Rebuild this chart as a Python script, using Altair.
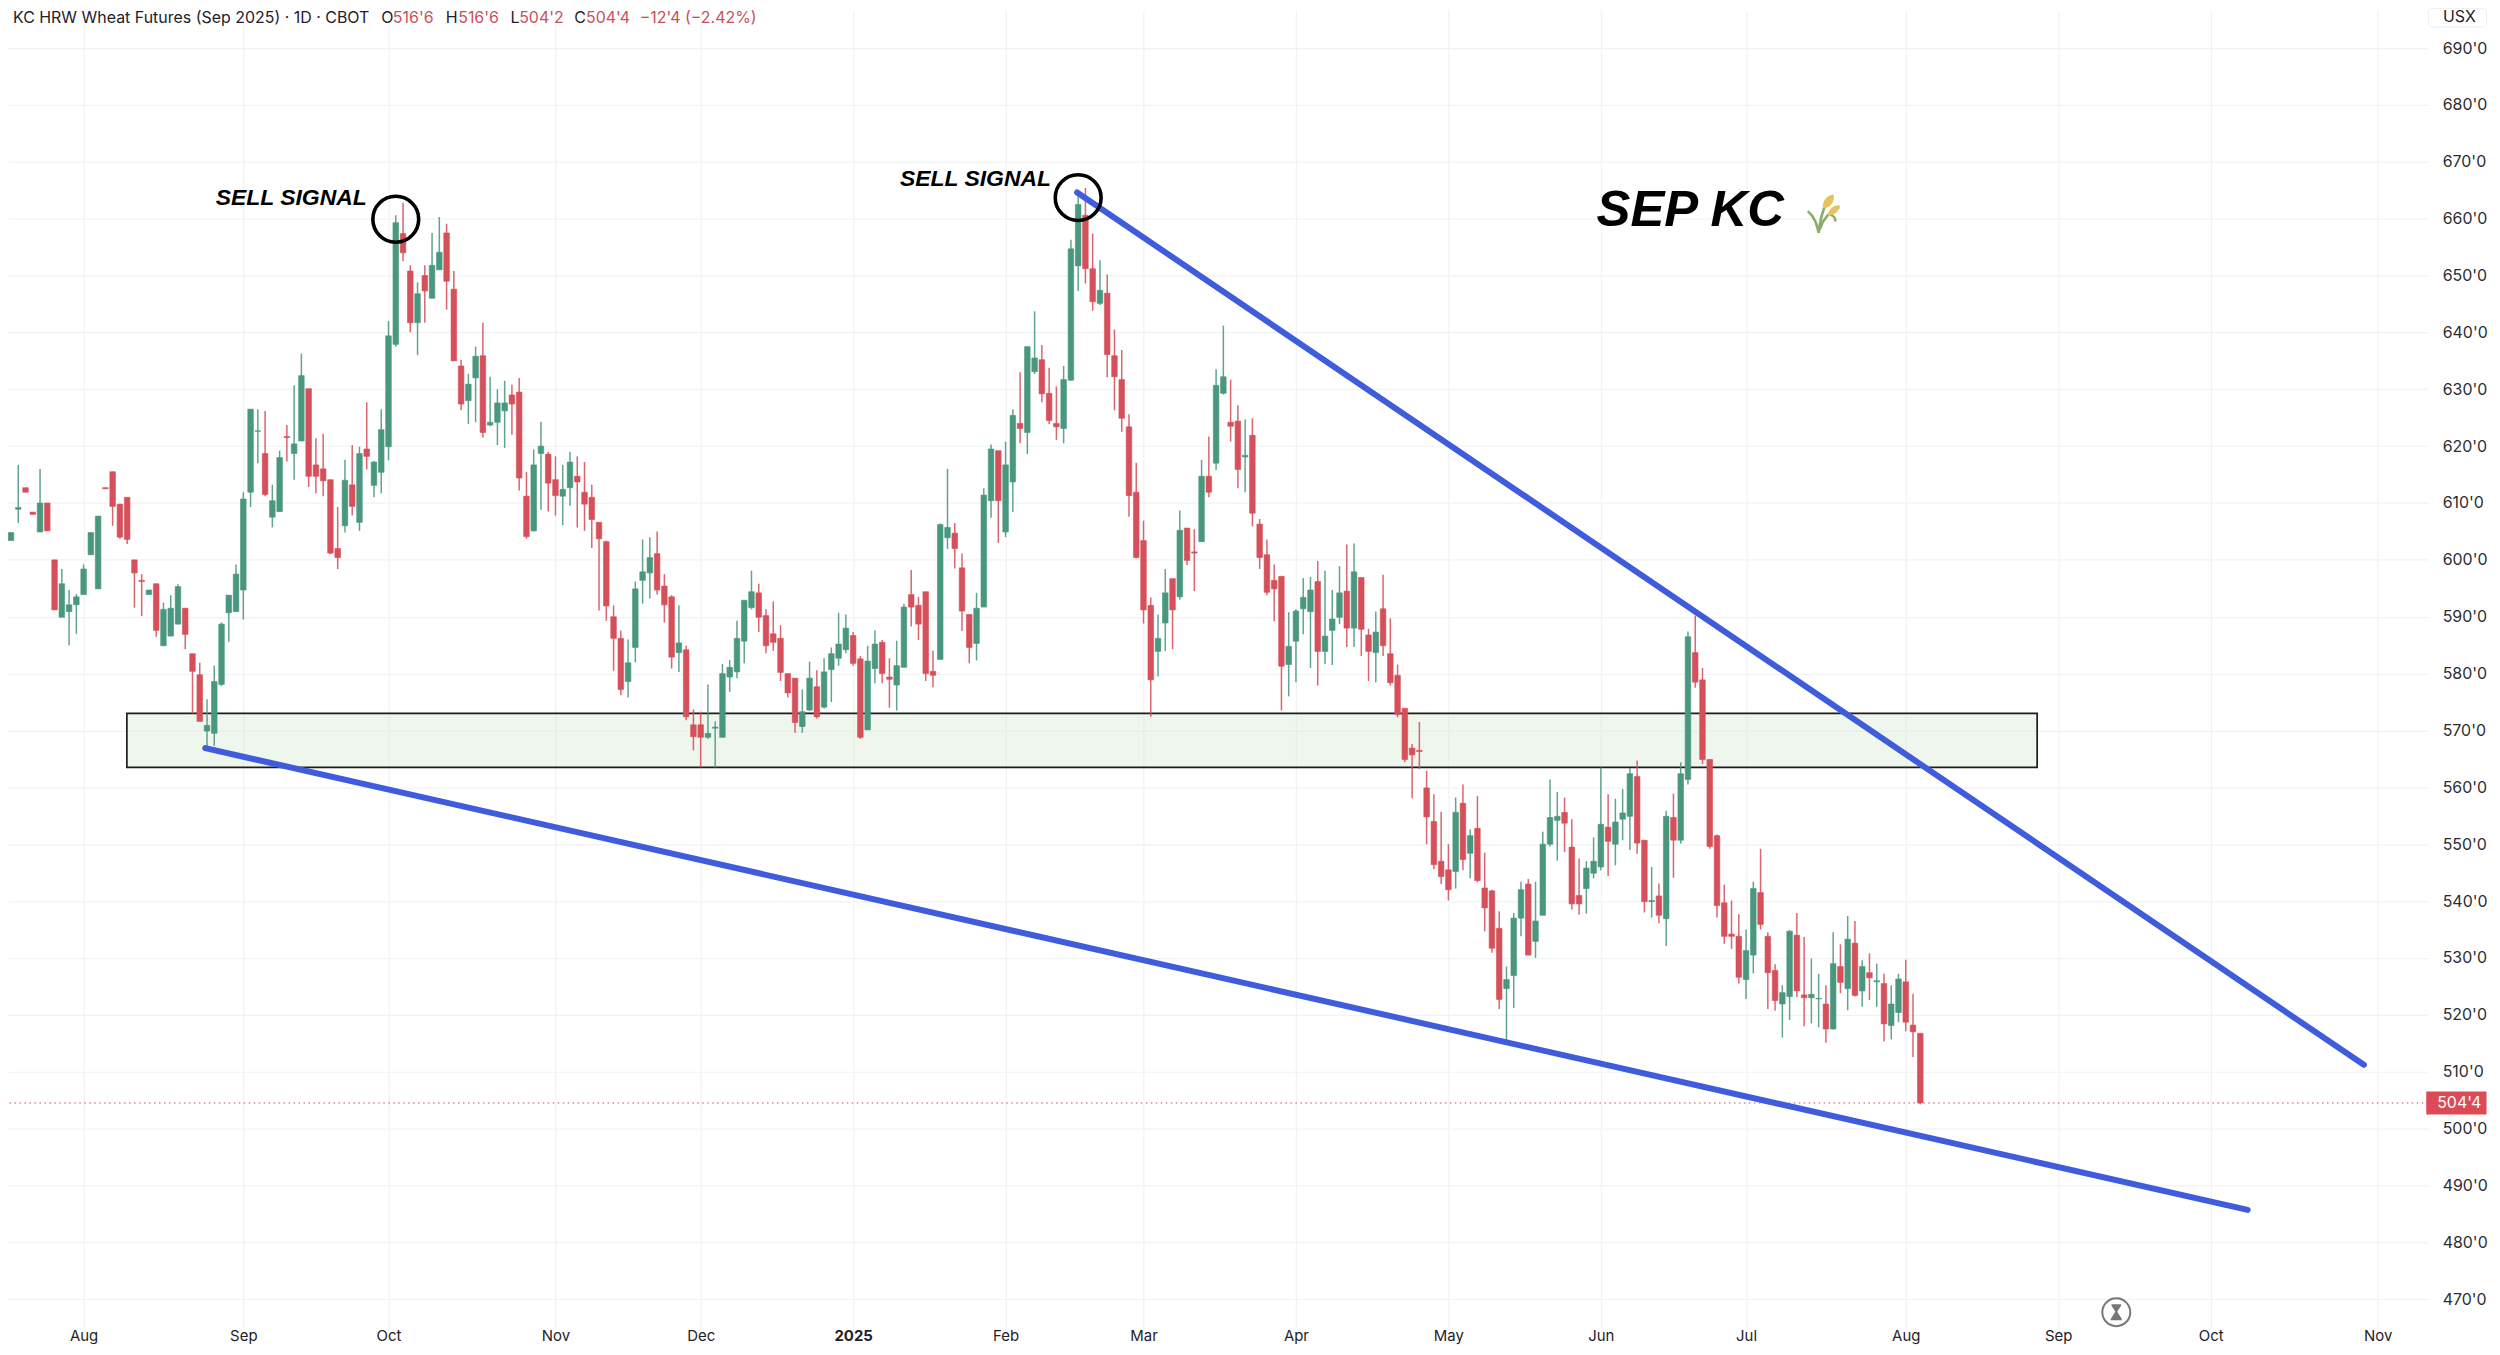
import altair as alt
import pandas as pd

highs = [606.5,604.8,616.7,612.7,608.4,616.0,610.0,600.0,598.4,594.7,
594.0,599.2,604.8,607.7,612.7,615.5,609.8,611.0,600.0,597.5,
594.7,595.8,592.5,593.8,595.7,591.5,583.5,581.9,575.5,581.4,
589.0,593.8,599.2,611.9,626.5,626.5,626.2,613.2,619.2,623.7,
630.7,636.3,630.1,621.4,622.2,614.1,609.3,617.6,620.2,619.9,
627.7,617.4,626.5,642.0,660.6,662.8,651.8,648.8,651.8,657.5,
660.3,659.1,650.8,635.2,632.7,637.5,641.7,632.2,630.0,631.5,
630.8,632.0,615.5,619.4,624.3,619.0,618.2,616.7,619.0,618.2,
617.2,613.2,606.6,603.4,592.0,587.6,586.0,596.2,603.6,604.0,
605.0,597.5,593.8,592.0,584.9,573.7,573.3,578.1,571.6,581.7,
582.4,589.3,592.9,598.1,595.8,591.3,592.7,588.5,580.0,579.2,
577.2,582.1,580.6,582.7,584.6,590.7,590.4,587.3,583.1,584.9,
587.6,585.9,582.7,585.8,592.3,598.2,593.5,594.4,584.0,606.4,
616.0,606.5,601.1,590.4,594.2,612.6,620.3,619.2,620.8,626.5,
633.0,637.5,643.7,637.8,633.8,630.5,634.1,656.3,664.5,665.4,
657.4,652.7,650.2,640.5,636.9,625.6,617.1,606.9,593.4,590.4,
598.4,596.7,608.7,605.6,605.4,617.6,621.7,633.5,641.2,631.7,
627.2,624.7,624.9,607.2,603.6,599.2,597.1,590.8,591.3,596.8,
597.0,599.8,598.1,594.7,598.9,602.7,602.9,596.9,587.9,590.9,
597.4,589.7,581.6,573.9,567.6,571.5,562.9,558.8,555.7,550.0,
558.2,560.5,552.6,558.5,548.5,542.0,538.2,528.5,537.9,543.4,
543.9,543.4,552.2,561.4,559.2,558.2,554.4,547.5,547.0,551.2,
563.5,558.8,558.0,559.7,563.4,564.7,550.7,546.0,543.1,555.9,
558.9,564.4,587.4,590.2,581.0,564.9,551.7,542.9,540.1,537.7,
535.0,543.4,549.2,534.5,528.9,525.2,534.9,537.9,533.7,529.9,
527.2,525.2,534.5,532.4,537.4,536.5,529.6,530.8,529.0,527.2,
525.2,527.2,529.7,523.7,516.75]

lows = [605.2,603.4,606.5,611.9,608.0,604.9,605.1,591.2,589.9,585.0,
587.0,593.9,600.9,594.9,612.5,606.0,603.7,602.8,591.6,590.1,
593.9,586.5,584.9,586.6,588.7,584.3,573.0,571.6,567.1,567.3,
577.8,585.6,590.9,589.5,609.3,617.0,611.2,605.7,608.4,617.3,
614.1,620.9,612.8,611.7,611.2,601.0,598.4,604.8,607.8,605.1,
615.9,611.0,611.7,617.5,637.5,652.5,640.0,636.0,641.7,646.0,
651.0,644.0,635.0,626.3,623.9,624.2,621.5,623.5,620.2,619.7,
622.0,612.2,603.7,605.0,608.8,608.5,607.8,606.1,609.5,605.7,
605.1,602.1,591.1,589.3,580.5,576.2,575.8,582.0,592.3,593.2,
593.9,589.0,580.9,580.3,571.8,566.5,563.5,568.5,563.5,568.8,
576.8,579.2,581.8,591.3,587.3,583.6,584.0,578.7,575.8,569.6,
569.6,573.4,572.1,573.8,575.0,581.4,583.6,581.4,568.5,570.1,
578.3,578.3,574.0,573.5,581.1,588.3,585.9,578.7,577.6,582.5,
601.9,598.5,587.5,581.8,582.3,591.7,607.4,603.0,604.0,608.4,
620.5,618.6,632.7,627.7,623.9,621.1,620.5,631.5,647.3,648.6,
643.8,644.8,632.1,626.3,622.5,607.6,600.3,588.8,572.4,579.5,
584.0,584.3,593.0,599.1,594.5,603.2,611.0,615.8,629.1,620.8,
612.6,611.9,605.9,598.4,593.8,589.2,573.5,576.0,578.5,586.9,
581.0,577.9,581.7,581.5,588.7,584.7,584.7,583.1,578.7,578.5,
583.1,577.9,572.3,564.4,558.1,563.2,550.0,545.6,543.0,540.1,
542.2,545.4,544.0,543.3,534.7,530.9,521.0,515.5,521.2,533.8,
530.5,530.0,537.5,549.6,547.1,548.6,538.5,537.6,537.8,544.0,
545.4,544.4,546.3,550.7,549.0,548.3,538.0,537.1,536.1,532.1,
544.1,550.1,560.5,577.5,564.1,549.2,537.1,532.5,531.6,525.5,
522.8,527.3,535.0,521.0,520.7,516.0,519.1,523.1,518.0,518.5,
517.8,515.1,517.4,523.8,520.8,523.2,521.4,522.6,521.4,515.3,
515.7,518.7,517.1,512.6,504.25]

body_tops = [606.5,604.8,609.2,612.7,608.4,610.0,610.0,600.0,595.8,592.1,
593.5,598.4,604.8,607.7,612.7,615.5,609.8,611.0,600.0,596.4,
594.7,595.8,591.3,591.5,595.3,591.5,583.5,579.8,570.9,578.6,
588.7,593.8,597.5,610.7,626.5,622.7,618.7,610.4,618.0,621.7,
620.4,632.4,630.1,616.7,616.0,614.1,602.0,614.0,613.2,618.7,
619.5,617.2,622.9,639.4,659.3,657.4,650.8,646.8,650.0,651.8,
654.1,657.5,647.6,634.1,630.9,635.8,635.9,624.2,627.6,627.6,
629.0,629.5,611.2,616.7,620.0,618.6,614.1,612.4,617.2,614.7,
611.9,611.0,606.6,603.2,590.0,586.2,581.9,594.9,597.9,600.4,
601.1,595.4,593.5,585.4,584.2,571.0,571.0,569.5,570.6,580.0,
581.1,586.2,592.9,594.4,594.2,590.2,587.0,586.2,580.0,579.2,
573.3,579.2,577.7,580.3,583.5,585.2,588.0,586.7,582.6,582.2,
585.2,585.5,579.4,581.4,591.7,593.9,592.0,594.4,580.4,606.2,
605.7,604.7,598.6,590.4,591.5,611.4,619.5,619.2,616.7,625.4,
624.0,637.5,635.5,635.2,629.3,624.0,631.7,654.7,662.5,660.6,
651.2,647.4,646.9,635.9,631.7,623.4,611.9,603.4,592.0,586.2,
594.2,596.7,605.2,605.6,601.4,614.7,614.7,630.7,632.2,624.2,
624.4,618.4,621.9,606.3,600.9,596.4,597.1,584.8,591.0,593.4,
594.7,596.2,586.6,589.6,594.2,594.5,597.9,596.9,586.8,587.3,
591.4,583.5,579.7,573.9,566.9,566.5,559.9,554.0,547.0,545.5,
555.6,557.2,551.5,552.8,542.3,541.8,535.2,526.2,537.0,542.0,
543.0,536.5,550.0,554.7,554.9,555.6,549.5,541.0,545.8,547.0,
553.5,553.0,553.9,555.5,562.4,561.9,550.7,540.1,540.9,554.9,
554.7,562.4,586.5,583.7,578.9,564.9,551.5,539.7,534.2,533.8,
531.3,542.2,541.5,533.8,527.8,523.9,534.7,534.0,523.5,523.6,
522.9,521.9,529.0,528.5,533.3,532.6,528.5,527.4,526.0,525.5,
521.9,526.3,525.8,518.2,516.75]

body_bottoms = [605.2,603.4,608.9,611.9,608.0,604.9,605.1,591.2,589.9,590.9,
592.1,593.9,600.9,594.9,612.5,609.4,604.0,603.6,597.7,596.2,
593.9,587.6,584.9,586.6,588.7,586.9,580.4,571.6,569.9,569.5,
578.1,590.7,590.9,594.7,611.9,622.6,611.5,607.5,608.5,621.5,
618.7,620.9,614.7,614.7,613.9,601.2,600.4,606.0,609.4,606.6,
618.2,613.1,615.4,619.9,637.9,654.0,641.7,641.7,647.3,646.0,
651.0,649.0,635.0,627.4,628.0,632.0,622.4,623.7,624.2,626.2,
627.4,614.4,604.1,605.1,618.7,613.5,611.3,611.2,612.7,613.7,
609.8,607.1,603.7,591.9,586.2,577.2,578.6,584.6,596.4,597.7,
594.7,592.1,582.9,583.7,572.4,568.9,568.8,568.8,570.4,568.8,
579.4,580.3,585.7,591.6,589.9,584.9,585.5,580.2,576.6,571.4,
570.7,573.6,572.4,574.1,580.7,582.7,584.2,581.8,568.8,570.1,
580.9,580.0,579.0,578.0,581.1,591.7,588.7,580.0,579.7,582.5,
603.9,602.0,591.0,584.6,585.3,591.7,610.4,610.4,604.9,613.7,
623.1,622.4,633.1,629.2,624.5,623.4,623.1,631.6,651.7,651.2,
645.4,645.1,636.1,632.2,624.9,611.3,600.4,591.2,578.9,583.9,
588.9,591.2,593.5,599.9,601.2,603.2,611.9,617.0,629.3,623.5,
615.9,618.1,608.2,600.4,594.3,594.9,581.3,581.6,585.7,591.4,
590.9,583.9,583.9,587.6,589.9,588.0,588.0,587.8,583.9,583.7,
584.9,578.4,572.8,564.9,565.7,566.3,554.8,546.4,544.3,542.0,
545.2,547.3,548.4,543.6,538.8,531.7,522.7,524.6,526.9,537.0,
530.5,532.9,537.5,550.0,554.2,553.7,539.5,539.5,542.2,544.9,
546.0,550.5,550.0,554.4,554.9,550.2,539.9,539.9,537.5,536.9,
550.7,550.7,561.4,578.5,564.9,549.6,539.2,533.8,533.8,526.6,
526.2,530.5,535.9,527.4,522.5,521.9,523.2,524.2,523.0,523.0,
522.8,517.5,517.5,525.7,524.6,523.4,524.2,526.5,525.8,518.4,
518.1,520.4,518.7,517.0,504.5]

directions = (
    "d u u d d u d d u u "
    "u u u u d d d d d d "
    "u d u u u d d d u u "
    "u u u u u u d u u d "
    "u u d d d d d u d u "
    "d u u u u d d u d u "
    "u d d d u u d u u u "
    "d d d u u d d u u d "
    "d d d d d d u u u u "
    "d d d u d d d u u u "
    "u u u u d d d d d d "
    "u u d u u u u d d u "
    "u d d u u d d d d u "
    "u d d d u u u d u u "
    "d u u d d d u u u d "
    "d u d d d d d d d u "
    "u d u d d u d u u d "
    "d u d d d d d u u u "
    "u d u u u d u d d u "
    "d d d d d d d d d d "
    "u d u d d d d u u u "
    "d u u u u d d d u u "
    "u d u u u d d u d u "
    "d u u d d d d d d d "
    "u u d d d u u d d u "
    "u d u d u d u d u d "
    "u u d d d"
).split()

month_bars = [11, 33, 53, 76, 96, 117, 138, 157, 178, 199, 220, 240, 262, 283, 304, 327]
month_labels = ["Aug", "Sep", "Oct", "Nov", "Dec", "2025", "Feb", "Mar", "Apr", "May",
                "Jun", "Jul", "Aug", "Sep", "Oct", "Nov"]
price_ticks = list(range(470, 700, 10))

upper_trend_bars = [147.86, 325.1]
upper_trend_prices = [664.6, 511.2]
lower_trend_bars = [27.76, 309.1]
lower_trend_prices = [566.9, 485.7]

zone_bars = [16.96, 280.1]
zone_prices = [573.0, 563.5]

circle_bars = [54.0, 148.0]
circle_prices = [659.9, 663.7]
signal_bars = [29.2, 123.45]
signal_prices = [663.7, 666.9]
signal_texts = ["SELL SIGNAL", "SELL SIGNAL"]

header_texts = ["KC HRW Wheat Futures (Sep 2025) · 1D · CBOT", "O", "516'6", "H", "516'6",
                "L", "504'2", "C", "504'4", "−12'4 (−2.42%)"]
header_bars = [1.27, 52.0, 53.6, 60.9, 62.6, 69.8, 71.0, 78.6, 80.2, 87.6]
header_colors = ["#1f2229", "#1f2229", "#c9505c", "#1f2229", "#c9505c",
                 "#1f2229", "#c9505c", "#1f2229", "#c9505c", "#c9505c"]
last_price = 504.5
last_label = "504'4"

GREEN = "#4a977f"
RED = "#d5505a"
BLUE = "#3f5cdc"
FONT = "Inter"

df = pd.DataFrame({
    "bar": range(len(highs)), "high": highs, "low": lows,
    "top": body_tops, "bottom": body_bottoms, "dir": directions,
})

BAR_MIN, BAR_MAX = 1.272, 333.28
x_scale = alt.Scale(domain=[BAR_MIN, BAR_MAX], zero=False, nice=False)
y_scale = alt.Scale(domain=[464.94, 696.67], zero=False, nice=False)
color_scale = alt.Scale(domain=["u", "d"], range=[GREEN, RED])

label_array = "[" + ",".join(f'"{m}"' for m in month_labels) + "]"
bar_array = "[" + ",".join(str(b) for b in month_bars) + "]"

x_axis = alt.Axis(
    values=month_bars, grid=True, gridColor="#f1f2f5", gridWidth=1.2, domain=False, ticks=False,
    labelExpr=f"{label_array}[indexof({bar_array}, datum.value)]",
    labelFont=FONT, labelFontSize=15, labelColor="#1f2229", labelPadding=1, labelOverlap=False,
    labelFontWeight={"expr": "datum.value === 117 ? 'bold' : 'normal'"}, title=None,
)
y_axis = alt.Axis(
    orient="right", values=price_ticks, grid=True, gridColor="#f1f2f5", gridWidth=1.2, domain=False,
    ticks=False, labelExpr="floor(datum.value) + \"'0\"", labelFont=FONT, labelFontSize=16,
    labelColor="#2a2d33", labelPadding=14, labelOverlap=False, title=None,
)


def X(field="x"):
    return alt.X(field, type="quantitative", scale=x_scale, axis=x_axis)


def Y(field="y"):
    return alt.Y(field, type="quantitative", scale=y_scale, axis=y_axis)


zone = alt.Chart(pd.DataFrame({
    "x": [zone_bars[0]], "x2": [zone_bars[1]], "y": [zone_prices[0]], "y2": [zone_prices[1]],
})).mark_rect(fill="#d3e8d0", fillOpacity=0.38, stroke="#1d1d1d", strokeWidth=1.7).encode(
    x=X(), x2="x2", y=Y(), y2="y2")

last_rule = alt.Chart(pd.DataFrame({"y": [last_price]})).mark_rule(
    color="#b9505c", strokeWidth=1.1, strokeDash=[1.5, 3.5]).encode(y=Y())

wicks = alt.Chart(df).mark_rule(strokeWidth=1.5, opacity=0.88, clip=True).encode(
    x=X("bar"), y=Y("high"), y2="low",
    color=alt.Color("dir:N", scale=color_scale, legend=None))

bodies = alt.Chart(df).mark_bar(size=5.6, strokeWidth=0.6, clip=True).encode(
    x=X("bar"), y=Y("top"), y2="bottom",
    color=alt.Color("dir:N", scale=color_scale, legend=None),
    stroke=alt.Stroke("dir:N", scale=color_scale, legend=None))

upper_trend = alt.Chart(pd.DataFrame({"x": upper_trend_bars, "y": upper_trend_prices})).mark_line(
    color=BLUE, strokeWidth=6, strokeCap="round").encode(x=X(), y=Y())
lower_trend = alt.Chart(pd.DataFrame({"x": lower_trend_bars, "y": lower_trend_prices})).mark_line(
    color=BLUE, strokeWidth=6, strokeCap="round").encode(x=X(), y=Y())

circles = alt.Chart(pd.DataFrame({"x": circle_bars, "y": circle_prices})).mark_point(
    shape="circle", filled=False, size=2116, stroke="#000000", strokeWidth=3.6, opacity=1).encode(x=X(), y=Y())

signals = alt.Chart(pd.DataFrame({"x": signal_bars, "y": signal_prices, "t": signal_texts})).mark_text(
    font="Liberation Sans", fontWeight="bold", fontStyle="italic", fontSize=23, align="left",
    baseline="middle", color="#000000").encode(x=X(), y=Y(), text="t:N")

title_text = alt.Chart(pd.DataFrame({"x": [219.4], "y": [661.3], "t": ["SEP KC"]})).mark_text(
    font="Liberation Sans", fontWeight="bold", fontStyle="italic", fontSize=51, align="left",
    baseline="middle", color="#000000").encode(x=X(), y=Y(), text="t:N")

wheat_point = pd.DataFrame({"x": [250.7], "y": [660.9]})
wheat_stems = alt.Chart(wheat_point).mark_point(
    shape="M -0.25 0.97 C -0.35 0.55 -0.45 0.15 -0.8 -0.12 M -0.25 0.97 C -0.2 0.4 -0.1 0 0.1 -0.45 "
          "M -0.2 0.8 C -0.05 0.25 0.3 -0.1 0.78 -0.33 M 0.3 0.05 C 0.5 0.1 0.6 0.25 0.58 0.4",
    filled=False, size=1600, stroke="#88ae6b", strokeWidth=2.6, opacity=1).encode(x=X(), y=Y())
wheat_ears = alt.Chart(wheat_point).mark_point(
    shape="M -0.05 -0.3 C -0.05 -0.6 0.1 -0.9 0.5 -0.95 C 0.55 -0.6 0.4 -0.35 0.05 -0.25 Z "
          "M 0.2 0.1 C 0.2 -0.2 0.5 -0.45 0.8 -0.42 C 0.8 -0.15 0.55 0.1 0.2 0.1 Z",
    filled=True, size=1600, fill="#e8c25c", strokeWidth=0, opacity=1).encode(x=X(), y=Y())

icon_point = pd.DataFrame({"x": [291.0], "y": [467.7]})
icon_ring = alt.Chart(icon_point).mark_point(
    shape="circle", filled=False, size=784, stroke="#777777", strokeWidth=2, opacity=1).encode(x=X(), y=Y())
icon_glass = alt.Chart(icon_point).mark_point(
    shape="M -0.6 -1 L 0.6 -1 L 0.6 -0.8 L 0.12 -0.05 L 0.7 0.85 L 0.7 1 L -0.7 1 L -0.7 0.85 L -0.12 -0.05 L -0.6 -0.8 Z",
    filled=True, size=256, fill="#777777", strokeWidth=0, opacity=1).encode(x=X(), y=Y())

header = alt.Chart(pd.DataFrame({
    "x": header_bars, "t": header_texts, "c": header_colors, "y": [695.3] * len(header_texts),
})).mark_text(font=FONT, fontSize=16, align="left", baseline="middle").encode(
    x=X(), y=Y(), text="t:N", color=alt.Color("c:N", scale=None, legend=None))

usx_box = alt.Chart(pd.DataFrame({"x": [334.0], "x2": [342.0], "y": [697.0], "y2": [693.7]})).mark_rect(
    fill="#ffffff", stroke="#eceef2", strokeWidth=1, cornerRadius=4).encode(x=X(), x2="x2", y=Y(), y2="y2")
usx = alt.Chart(pd.DataFrame({"x": [336.0], "y": [695.4], "t": ["USX"]})).mark_text(
    font=FONT, fontSize=16, align="left", baseline="middle", color="#1f2229").encode(x=X(), y=Y(), text="t:N")

last_box = alt.Chart(pd.DataFrame({"x": [333.7], "x2": [342.0], "y": [506.5], "y2": [502.45]})).mark_rect(
    fill="#dc4a55").encode(x=X(), x2="x2", y=Y(), y2="y2")
last_text = alt.Chart(pd.DataFrame({"x": [335.2], "y": [last_price], "t": [last_label]})).mark_text(
    font=FONT, fontSize=16, align="left", baseline="middle", color="#ffffff").encode(x=X(), y=Y(), text="t:N")

chart = alt.layer(
    zone, last_rule, wicks, bodies, upper_trend, lower_trend, circles, signals,
    title_text, wheat_stems, wheat_ears, icon_ring, icon_glass, header, usx_box, usx, last_box, last_text,
).resolve_scale(color="independent", stroke="independent").properties(
    width=2428, height=1322,
    padding={"left": 0, "top": 0, "right": 64, "bottom": 18},
    autosize=alt.AutoSizeParams(type="none"),
    background="#ffffff",
).configure_view(stroke=None)

chart.save("out.html", embed_options={"renderer": "svg", "actions": False})
